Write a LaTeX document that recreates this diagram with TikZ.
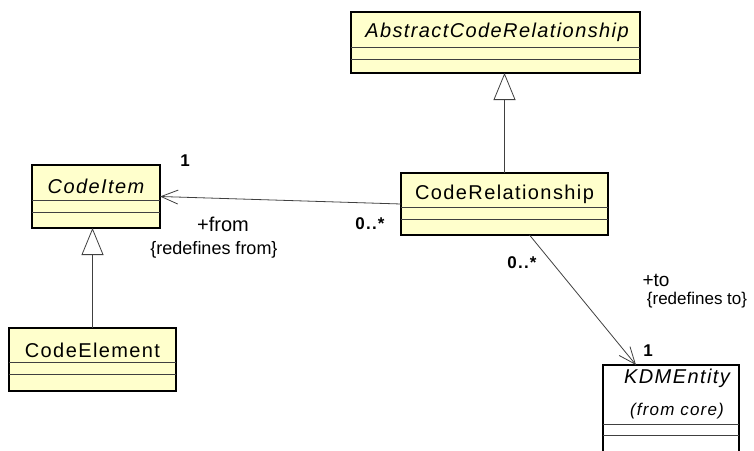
\documentclass[tikz,border=0pt]{standalone}
\usepackage{fontspec}
\setmainfont{Liberation Sans}
\usepackage{tikz}
\usetikzlibrary{calc,arrows.meta,positioning}
\definecolor{clsfill}{HTML}{FFFFCC}
\definecolor{linec}{HTML}{404040}
\newfontfamily\umlsp[LetterSpace=7]{Liberation Sans}
\tikzset{
  cls/.style={draw=black,line width=1.2pt,fill=clsfill,inner sep=0pt,outer sep=0pt},
  sep/.style={linec,line width=0.9pt},
  gen/.style={-{Triangle[fill=white,length=27pt,width=22pt]},linec,line width=0.8pt},
  asc/.style={-{Straight Barb[length=17pt,width=14pt]},linec,line width=0.8pt},
  nm/.style={inner sep=0pt,anchor=base,font=\umlsp\fontsize{20}{22}\selectfont},
  lbl/.style={inner sep=0pt,anchor=base,font=\fontsize{18}{20}\selectfont},
  mult/.style={inner sep=0pt,anchor=base,font=\umlsp\bfseries\fontsize{17}{20}\selectfont}
}

\begin{document}
\begin{tikzpicture}[x=1pt,y=-1pt]
\useasboundingbox (0,0) rectangle (754,450);
% classes
\node[cls,minimum width=289pt,minimum height=61pt] (abs) at (495.5,42.5) {};
\node[cls,minimum width=207pt,minimum height=62pt] (rel) at (504.5,204) {};
\node[cls,minimum width=128pt,minimum height=63pt] (item) at (96,196.5) {};
\node[cls,minimum width=167pt,minimum height=63pt] (elem) at (92.5,359.5) {};
\node[cls,fill=white,minimum width=136pt,minimum height=96pt] (kdm) at (671,413) {};
\foreach \b/\p/\q in {abs/35/47,rel/34/46,item/35/47,elem/34/46,kdm/59/70}{
 \draw[sep] ($(\b.north west)+(0,\p)$) -- ($(\b.north east)+(0,\p)$);
 \draw[sep] ($(\b.north west)+(0,\q)$) -- ($(\b.north east)+(0,\q)$);}
\node[nm] (absN) at (497,37) {\itshape AbstractCodeRelationship};
\node[nm] (relN) at (504.5,199) {CodeRelationship};
\node[nm] (itemN) at (96,193) {\itshape CodeItem};
\node[nm] (elemN) at (92.5,357) {CodeElement};
\node[nm] (kdmN) at (677,383) {\itshape KDMEntity};
\node[nm,font=\umlsp\fontsize{17}{20}\selectfont] (kdmF) at (677,415) {\itshape (from core)};
% generalizations
\draw[gen] (rel.north) -- (rel.north |- abs.south);
\draw[gen] (elem.north) -- (elem.north |- item.south);
% associations
\draw[asc] (rel.west) -- (item.east);
\draw[asc] ([xshift=25pt]rel.south) -- ([xshift=-35pt]kdm.north);
% role labels
\node[mult] (m1) at (185,166) {1};
\node[lbl,font=\fontsize{20}{22}\selectfont] (from) at (223,231) {+from};
\node[lbl] (fromR) at (214,254) {\{redefines from\}};
\node[mult] (m2) at (370,229) {0..*};
\node[mult] (m3) at (522,268) {0..*};
\node[lbl,font=\fontsize{19}{22}\selectfont] (to) at (656,286) {+to};
\node[lbl,font=\fontsize{17}{20}\selectfont] (toR) at (697,304) {\{redefines to\}};
\node[mult] (m4) at (648,356) {1};
\end{tikzpicture}
\end{document}
